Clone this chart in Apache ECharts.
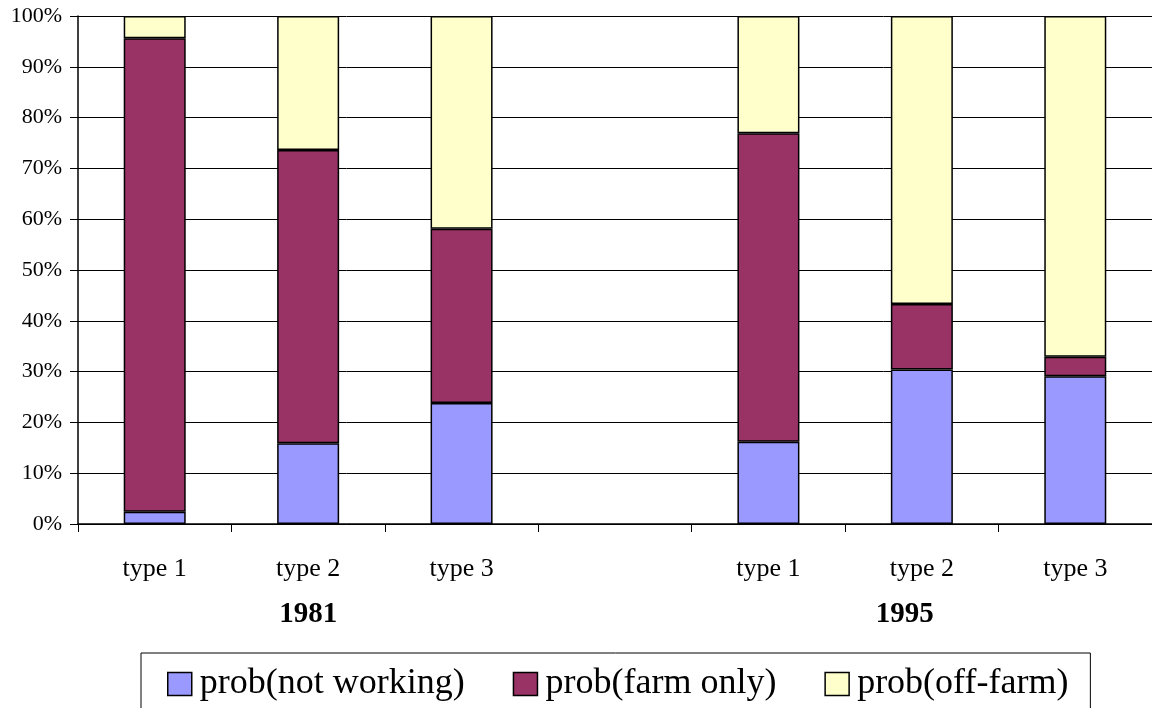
<!DOCTYPE html>
<html>
<head>
<meta charset="utf-8">
<script src="https://cdn.jsdelivr.net/npm/echarts@6/dist/echarts.min.js"></script>
<style>
html,body{margin:0;padding:0;background:#fff;}
#chart{width:1152px;height:708px;}
</style>
</head>
<body>
<div id="chart"></div>
<script>
var categories = ['type 1', 'type 2', 'type 3', '', 'type 1', 'type 2', 'type 3'];
var groupLabels = ['', '1981', '', '', '', '1995', ''];
var seriesNames = ['prob(not working)', 'prob(farm only)', 'prob(off-farm)'];
var notWorking = [2.4, 15.9, 23.8, null, 16.2, 30.4, 29.1];
var farmOnly   = [93.2, 57.7, 34.3, null, 60.7, 12.9, 3.8];
var offFarm    = [4.4, 26.4, 41.9, null, 23.1, 56.7, 67.1];
var yTicks = [0, 10, 20, 30, 40, 50, 60, 70, 80, 90, 100];

var colors = ['#9999FF', '#993366', '#FFFFCC'];
var FONT = '"Liberation Serif", "Times New Roman", serif';

var chart = echarts.init(document.getElementById('chart'), null, {renderer: 'canvas'});

function barSeries(name, data, color) {
  return {
    name: name,
    type: 'bar',
    stack: 'total',
    data: data,
    barWidth: 62,
    itemStyle: {color: color, borderColor: '#000', borderWidth: 1.5},
    emphasis: {disabled: true}
  };
}

chart.setOption({
  animation: false,
  textStyle: {fontFamily: FONT},
  grid: {left: 78, width: 1078, top: 16, bottom: 184, containLabel: false},
  legend: {
    left: 141,
    top: 653,
    data: seriesNames,
    icon: 'rect',
    itemWidth: 24,
    itemHeight: 23,
    itemGap: 48,
    padding: [13, 22, 30, 26],
    borderColor: '#000',
    borderWidth: 1,
    itemStyle: {borderColor: '#000', borderWidth: 1.5},
    textStyle: {fontFamily: FONT, fontSize: 36, color: '#000', padding: [0, 0, 0, 3]}
  },
  xAxis: [
    {
      type: 'category',
      data: categories,
      position: 'bottom',
      axisLine: {lineStyle: {color: '#000', width: 1.5}},
      axisTick: {show: true, length: 8, lineStyle: {color: '#000', width: 1}},
      axisLabel: {fontFamily: FONT, fontSize: 26, color: '#000', margin: 32, interval: 0}
    },
    {
      type: 'category',
      data: groupLabels,
      position: 'bottom',
      axisLine: {show: false},
      axisTick: {show: false},
      splitLine: {show: false},
      axisLabel: {
        interval: 0,
        margin: 76,
        formatter: function (v) { return v === '1995' ? '{b|' + v + '}' : '{a|' + v + '}'; },
        rich: {
          a: {fontFamily: FONT, fontSize: 29, fontWeight: 'bold', color: '#000'},
          b: {fontFamily: FONT, fontSize: 29, fontWeight: 'bold', color: '#000', padding: [0, 34, 0, 0]}
        }
      }
    }
  ],
  yAxis: {
    type: 'value',
    min: yTicks[0],
    max: yTicks[yTicks.length - 1],
    interval: 10,
    axisLine: {show: true, lineStyle: {color: '#000', width: 1.5}},
    axisTick: {show: true, length: 8, lineStyle: {color: '#000', width: 1}},
    axisLabel: {fontFamily: FONT, fontSize: 22, color: '#000', margin: 16, formatter: '{value}%'},
    splitLine: {show: true, lineStyle: {color: '#000', width: 1}}
  },
  series: [
    barSeries(seriesNames[0], notWorking, colors[0]),
    barSeries(seriesNames[1], farmOnly, colors[1]),
    barSeries(seriesNames[2], offFarm, colors[2])
  ]
});
</script>
</body>
</html>
